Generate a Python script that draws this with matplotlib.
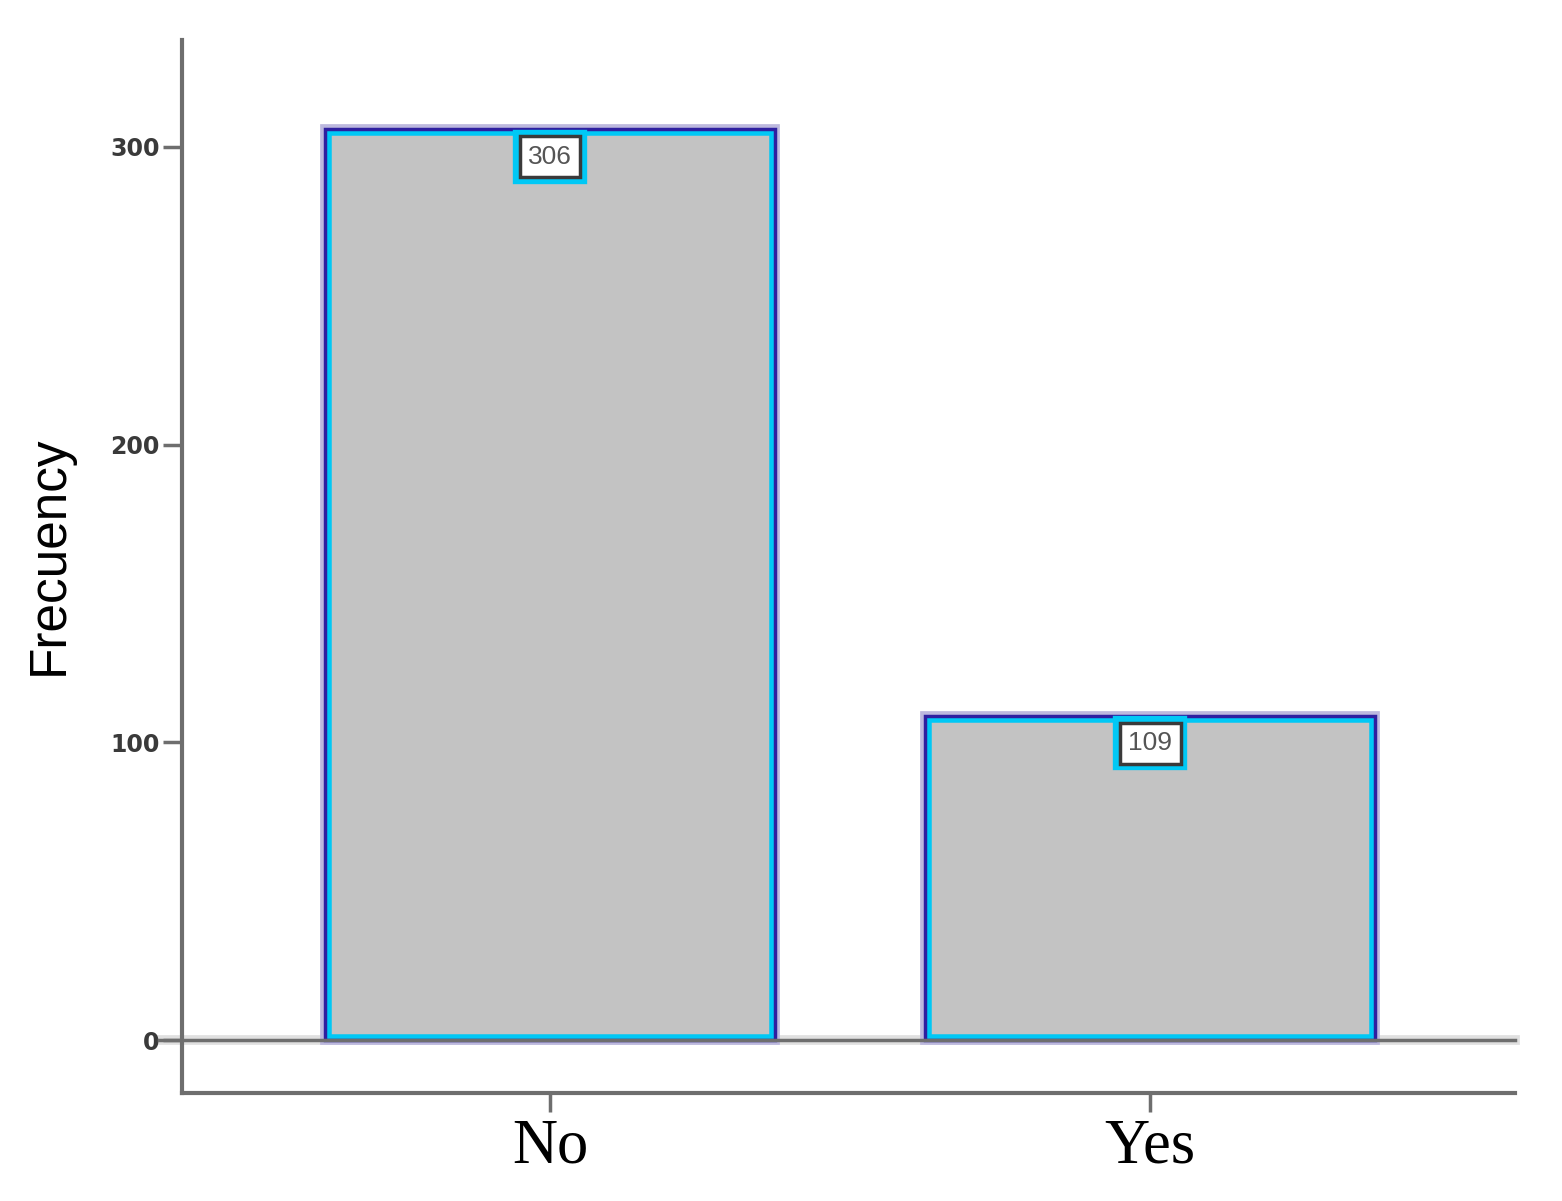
import matplotlib
matplotlib.use('Agg')
import matplotlib.pyplot as plt

# dados
categorias = ['No', 'Yes']
frecuencias = [306, 109]
yticks = [0, 100, 200, 300]

fig = plt.figure(figsize=(15.62, 12.01), dpi=100)
ax = fig.add_axes([0.1165, 0.0899, 0.8535, 0.8768])

x = list(range(len(categorias)))

# halo lilás por fora
ax.bar(x, frecuencias, width=0.75, color='none', edgecolor='#bcb8de', linewidth=7, zorder=2)
# barra cinza com borda ciano interna
bars = ax.bar(x, frecuencias, width=0.75, color='#c3c3c3', edgecolor='#00c8f5', linewidth=9, zorder=3)
for b in bars:
    b.set_clip_path(b)
# contorno azul escuro
ax.bar(x, frecuencias, width=0.75, color='none', edgecolor='#2e1fa0', linewidth=2.5, zorder=4)

# linha do zero
ax.axhline(0, xmin=-0.017, xmax=1, color='#e0e0e0', linewidth=7, zorder=1, clip_on=False)
ax.axhline(0, xmin=-0.017, xmax=1, color='#6e6e6e', linewidth=2.5, zorder=5, clip_on=False)

# rótulos com os valores
for xi, v in zip(x, frecuencias):
    ax.annotate(f'{v}', xy=(xi, v), xytext=(0, -20), textcoords='offset points',
                ha='center', va='center', fontsize=19, color='#555555',
                family='Liberation Sans', zorder=6,
                bbox=dict(boxstyle='square,pad=0.42', fc='white', ec='#00c8f5', lw=6))
    ax.annotate(f'{v}', xy=(xi, v), xytext=(0, -20), textcoords='offset points',
                ha='center', va='center', fontsize=19, color='#555555',
                family='Liberation Sans', zorder=7,
                bbox=dict(boxstyle='square,pad=0.32', fc='white', ec='#3a3a3a', lw=2.5))

ax.set_xlim(-0.613, 1.608)
ax.set_ylim(-17.8, 335.9)

ax.set_yticks(yticks)
ax.set_yticklabels([str(t) for t in yticks], fontsize=17, fontweight='bold', color='#3a3a3a')
ax.set_xticks(x)
ax.set_xticklabels(categorias, fontsize=45, family='Liberation Serif', color='black')
ax.tick_params(axis='y', length=14, width=2.5, color='#6e6e6e', pad=2)
ax.tick_params(axis='x', length=14, width=2.5, color='#6e6e6e', pad=4)

ax.set_ylabel('Frecuency', fontsize=37, family='Liberation Sans', color='black',
              labelpad=26, y=0.511)

for s in ['top', 'right']:
    ax.spines[s].set_visible(False)
for s in ['left', 'bottom']:
    ax.spines[s].set_color('#6e6e6e')
    ax.spines[s].set_linewidth(3)

plt.savefig('out.png', dpi=100)
plt.close()
